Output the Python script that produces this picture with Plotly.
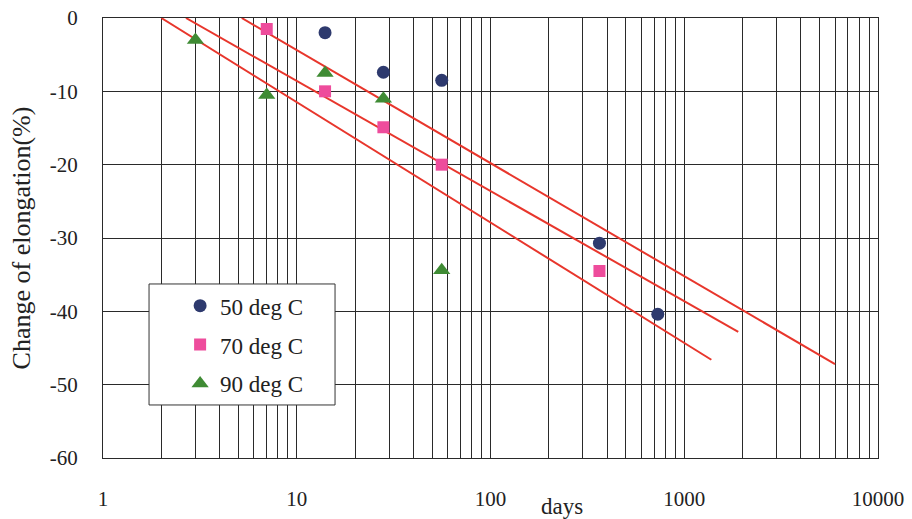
import plotly.graph_objects as go

# ---- data ----
days_50 = [14, 28, 56, 365, 730]
elong_50 = [-2.0, -7.4, -8.5, -30.7, -40.4]

days_70 = [7, 14, 28, 56, 365]
elong_70 = [-1.5, -10.0, -14.9, -20.0, -34.5]

days_90 = [3, 7, 14, 28, 56]
elong_90 = [-3.0, -10.5, -7.5, -11.0, -34.4]

# regression lines (start / end)
fit_days_50 = [5.2, 6000]
fit_vals_50 = [0.0, -47.2]
fit_days_70 = [2.68, 1900]
fit_vals_70 = [0.0, -42.8]
fit_days_90 = [2.0, 1380]
fit_vals_90 = [0.0, -46.6]

x_decades = [1, 10, 100, 1000, 10000]
y_ticks = [0, -10, -20, -30, -40, -50, -60]
y_labels = ["0", "-10", "-20", "-30", "-40", "-50", "-60"]

FONT = "Liberation Serif, DejaVu Serif, serif"
TXT = "#222"
RED = "#E8362C"
GRID = "#2a2a2a"

# tick values: every 1..9 multiple for grid lines, labels only on decades
xtickvals, xticktext = [], []
for d in x_decades[:-1]:
    for k in range(1, 10):
        xtickvals.append(k * d)
        xticktext.append(str(d) if k == 1 else "")
xtickvals.append(x_decades[-1])
xticktext.append(str(x_decades[-1]))

fig = go.Figure()

for fx, fy in [(fit_days_50, fit_vals_50), (fit_days_70, fit_vals_70), (fit_days_90, fit_vals_90)]:
    fig.add_trace(go.Scatter(x=fx, y=fy, mode="lines", line=dict(color=RED, width=2),
                             showlegend=False, hoverinfo="skip"))

fig.add_trace(go.Scatter(x=days_50, y=elong_50, mode="markers", name="50 deg C",
                         legendgroup="a",
                         marker=dict(symbol="circle", size=13, color="#2E3A6E")))
fig.add_trace(go.Scatter(x=days_70, y=elong_70, mode="markers", name="70 deg C",
                         legendgroup="b",
                         marker=dict(symbol="square", size=12, color="#EE4C9C")))
fig.add_trace(go.Scatter(x=days_90, y=elong_90, mode="markers", name="90 deg C",
                         legendgroup="c",
                         marker=dict(symbol="triangle-up", size=15, color="#3F8B34")))

fig.update_layout(
    width=912, height=519,
    margin=dict(l=103, r=34, t=18, b=61, autoexpand=False),
    paper_bgcolor="white", plot_bgcolor="white",
    font=dict(family=FONT, size=21, color=TXT),
    legend=dict(x=0.0995, y=0.395, xanchor="left", yanchor="top",
                bgcolor="rgba(0,0,0,0)", borderwidth=0,
                font=dict(family=FONT, size=23, color=TXT),
                tracegroupgap=6),
    shapes=[dict(type="rect", xref="paper", yref="paper",
                 x0=0.0594, x1=0.2994, y0=0.1205, y1=0.3955,
                 line=dict(color="#333", width=1), fillcolor="white", layer="above")],
    annotations=[dict(text="days", xref="paper", yref="paper",
                      x=(562 - 103) / 775, y=-(506 - 458) / 440,
                      xanchor="center", yanchor="middle", showarrow=False,
                      font=dict(family=FONT, size=23, color=TXT))],
)

fig.update_xaxes(type="log", range=[0, 4], tickmode="array",
                 tickvals=xtickvals, ticktext=xticktext, automargin=False,
                 showgrid=True, gridcolor=GRID, gridwidth=1,
                 showline=True, linecolor=GRID, linewidth=1, mirror=True,
                 ticks="", ticklabelstandoff=22, zeroline=False,
                 tickfont=dict(family=FONT, size=21, color=TXT))
fig.update_yaxes(range=[-60, 0], tickmode="array", tickvals=y_ticks, ticktext=y_labels,
                 automargin=False,
                 showgrid=True, gridcolor=GRID, gridwidth=1,
                 showline=True, linecolor=GRID, linewidth=1, mirror=True,
                 ticks="", ticklabelstandoff=20, zeroline=False,
                 tickfont=dict(family=FONT, size=21, color=TXT),
                 title=dict(text="Change of elongation(%)", standoff=11,
                            font=dict(family=FONT, size=26, color=TXT)))

fig.write_html("out.html", config={"displayModeBar": False},
               post_script="document.body.style.margin='0';document.body.style.padding='0';")
